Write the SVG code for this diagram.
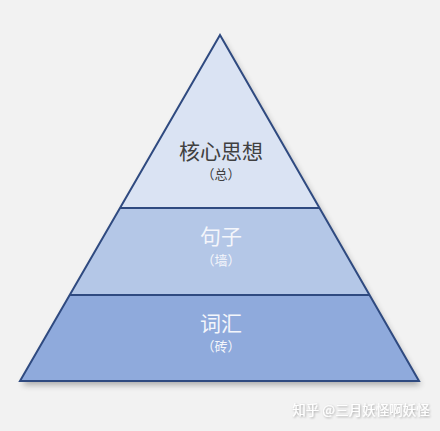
<svg xmlns="http://www.w3.org/2000/svg" width="440" height="431" viewBox="0 0 440 431">
<style>
.t{font-family:"Noto Sans CJK SC","Noto Sans",sans-serif;text-anchor:middle}
.big{font-size:21px}
.sm{font-size:13px}
.dark{fill:#404040}
.light{fill:#f4f6fb}
.edge{stroke:#2f4a80;stroke-width:2;fill:none;stroke-linejoin:miter}
</style>
<defs>
<filter id="sh" x="-10%" y="-10%" width="120%" height="130%">
<feGaussianBlur in="SourceAlpha" stdDeviation="3"/>
<feOffset dx="2" dy="4" result="b"/>
<feComponentTransfer><feFuncA type="linear" slope="0.3"/></feComponentTransfer>
<feMerge><feMergeNode/><feMergeNode in="SourceGraphic"/></feMerge>
</filter>
<filter id="ws"><feDropShadow dx="1" dy="1" stdDeviation="0.8" flood-color="#000" flood-opacity="0.35"/></filter>
</defs>
<rect width="440" height="431" fill="#f2f2f2"/>
<g filter="url(#sh)">
<g id="top"><polygon points="220,35 320,208 120,208" fill="#dae3f3"/></g>
<g id="middle"><polygon points="120,208 320,208 369.5,295 70,295" fill="#b4c7e7"/></g>
<g id="bottom"><polygon points="70,295 369.5,295 419,381 20,381" fill="#8faadc"/></g>
</g>
<g id="connectors">
<polygon class="edge" points="220,35 419,381 20,381"/>
<line class="edge" x1="120" y1="208" x2="320" y2="208"/>
<line class="edge" x1="70" y1="295" x2="369.5" y2="295"/>
</g>
<g id="labels">
<text class="t big dark" x="221" y="159">核心思想</text>
<text class="t sm dark" x="221" y="179">（总）</text>
<text class="t big light" x="221" y="244">句子</text>
<text class="t sm light" x="221" y="265">（墙）</text>
<text class="t big light" x="221" y="331">词汇</text>
<text class="t sm light" x="221" y="351">（砖）</text>
</g>
<text class="t" x="361" y="415" style="font-size:13.5px;fill:#ffffff" filter="url(#ws)">知乎 @三月妖怪啊妖怪</text>
</svg>
